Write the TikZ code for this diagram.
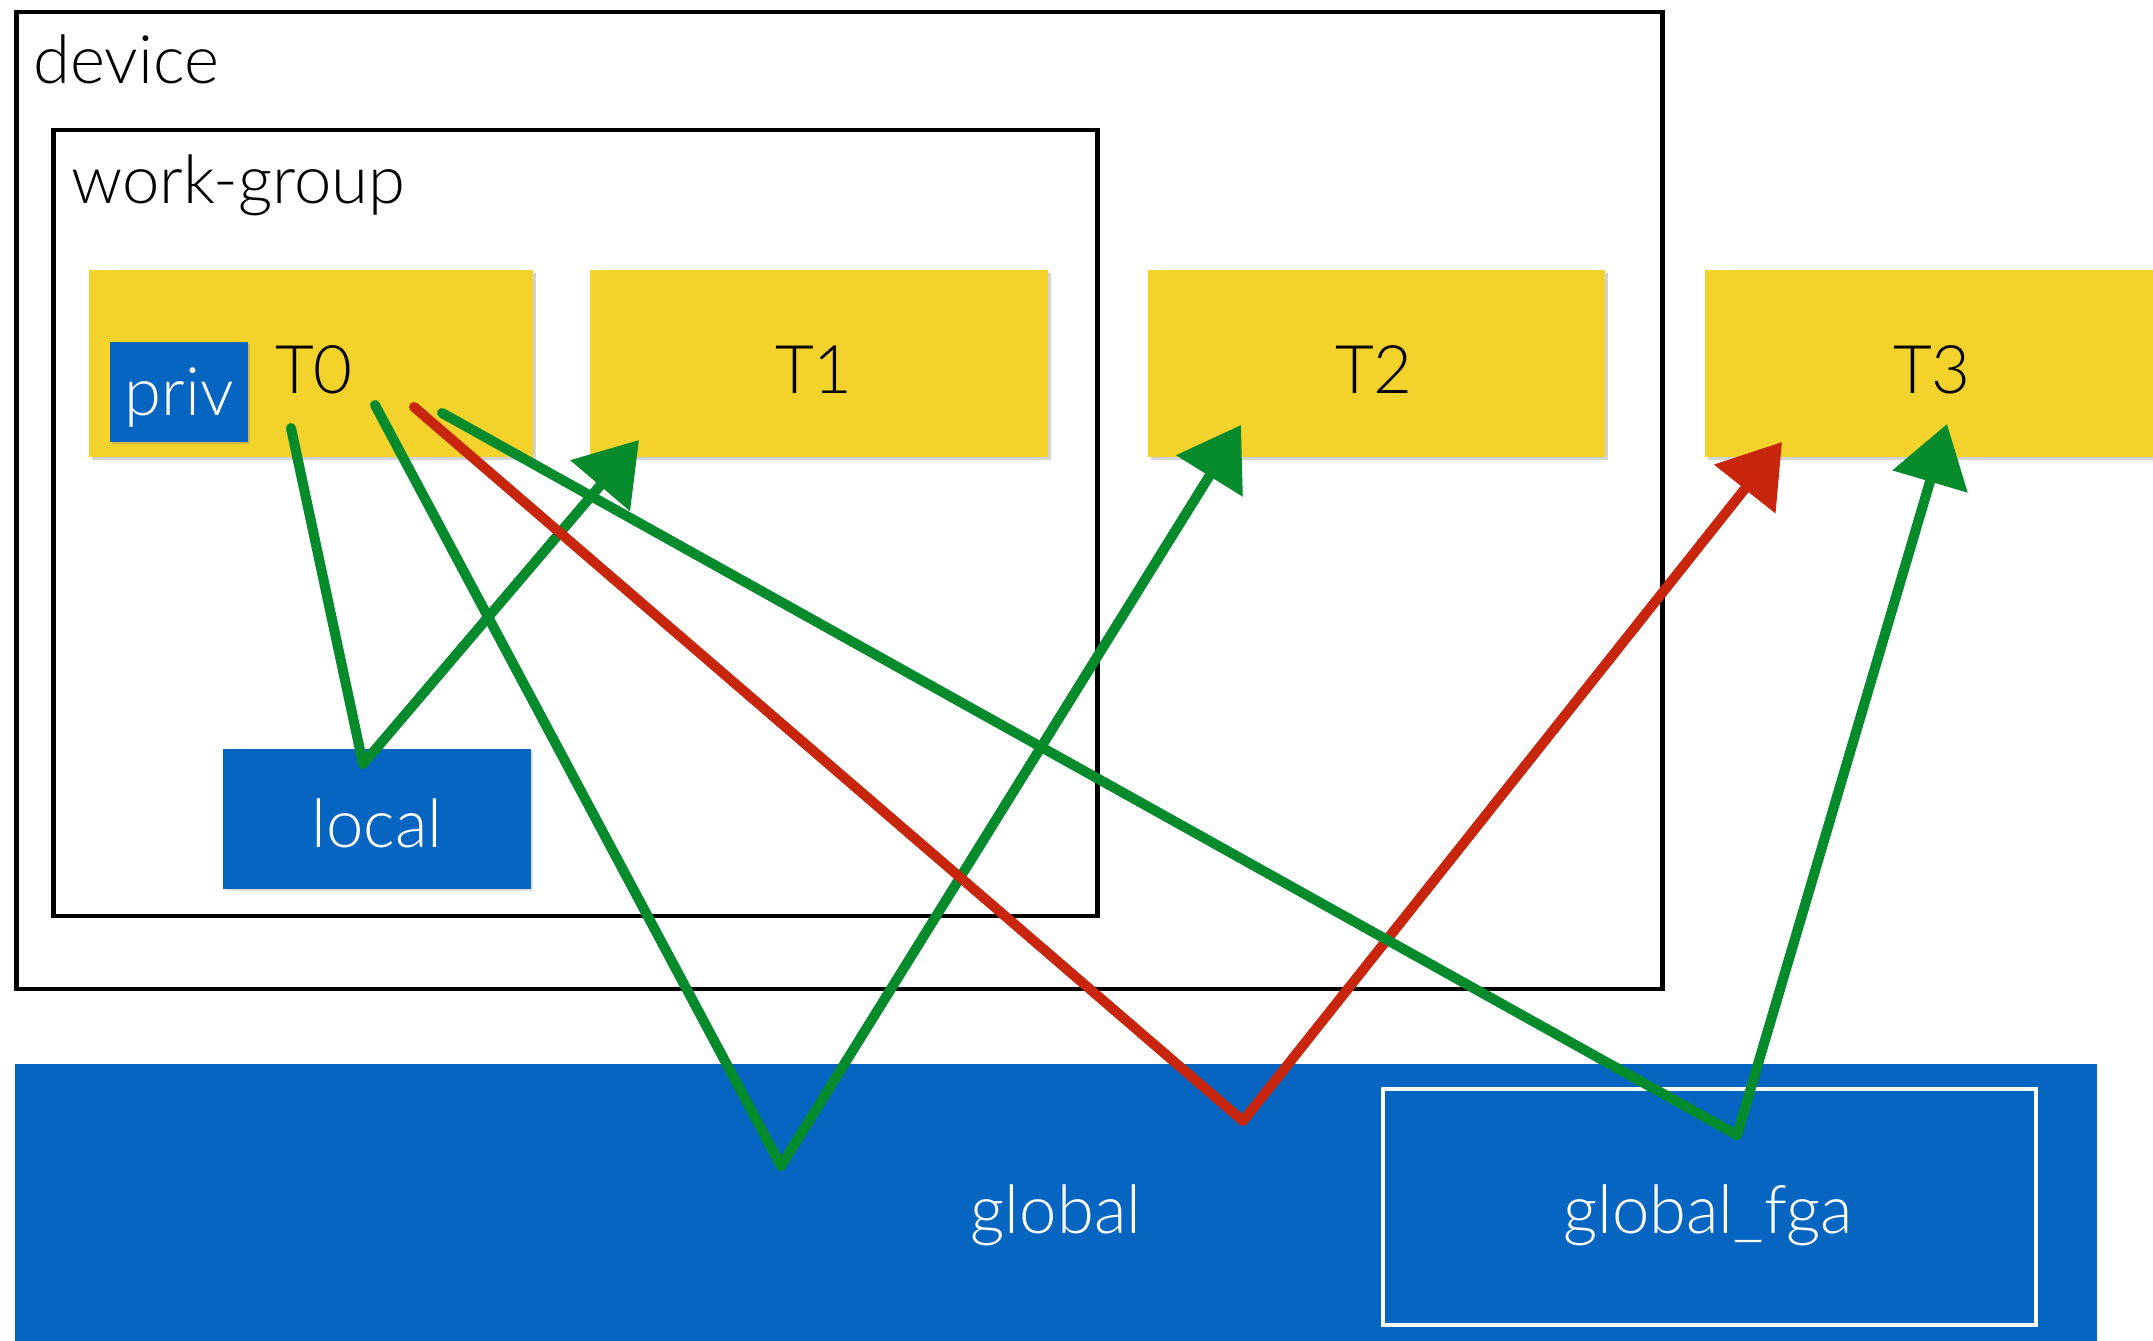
\documentclass[tikz,border=0pt]{standalone}
\usepackage{fontspec}
\setmainfont{Lato}[UprightFont={* Light}]
\usetikzlibrary{arrows.meta,shadows}
\definecolor{tyellow}{HTML}{F3D22B}
\definecolor{mblue}{HTML}{0565C0}
\definecolor{agreen}{HTML}{058A2C}
\definecolor{ared}{HTML}{C8260C}

\begin{document}
\begin{tikzpicture}[x=1pt,y=-1pt,
  box/.style={anchor=north west, inner sep=0pt, outer sep=0pt},
  frame/.style={box, draw=black, line width=4.5pt},
  thread/.style={box, fill=tyellow, drop shadow={shadow xshift=3pt, shadow yshift=-3pt, opacity=0.35}},
  mem/.style={box, fill=mblue},
  lbl/.style={font=\fontsize{67}{74}\selectfont, inner sep=0pt},
  wlbl/.style={lbl, text=white},
  chalk/.style={line width=10pt, line join=round, line cap=round,
                -{Triangle[length=60pt,width=76pt]}}
]
\useasboundingbox (0,0) rectangle (2153,1341);

% containers
\node[frame, minimum width=1646pt, minimum height=977pt] (device) at (16.5,12) {};
\node[lbl, anchor=base west] (devlbl) at (33,83) {device};
\node[frame, minimum width=1044pt, minimum height=786pt] (wg) at (53.5,130) {};
\node[lbl, anchor=base west] (wglbl) at (71,203) {work-group};

% work-items
\node[thread, minimum width=444pt, minimum height=187pt] (T0) at (89,270) {};
\node[lbl, anchor=base west] (T0lbl) at (275,393) {T0};
\node[mem, minimum width=138pt, minimum height=100pt,
      drop shadow={shadow xshift=2pt, shadow yshift=-2pt, opacity=0.3}] (priv) at (110,342) {};
\node[wlbl, anchor=base] (privlbl) at (179,415) {priv};
\node[thread, minimum width=458pt, minimum height=187pt] (T1) at (590,270) {};
\node[lbl, anchor=base] at (814,393) {T1};
\node[thread, minimum width=457pt, minimum height=187pt] (T2) at (1148,270) {};
\node[lbl, anchor=base] at (1374,393) {T2};
\node[thread, minimum width=470pt, minimum height=187pt] (T3) at (1705,270) {};
\node[lbl, anchor=base] at (1932,393) {T3};

% memories
\node[mem, minimum width=308pt, minimum height=140pt,
      drop shadow={shadow xshift=2pt, shadow yshift=-2pt, opacity=0.25}] (local) at (223,749) {};
\node[wlbl, anchor=base] at (377,847) {local};
\node[mem, minimum width=2082pt, minimum height=300pt] (global) at (15,1064) {};
\node[wlbl, anchor=base] at (1056,1233) {global};
\node[box, draw=white, line width=3.5pt, minimum width=653pt, minimum height=236pt] (fga) at (1383,1089) {};
\node[wlbl, anchor=base] at (1708,1233) {global\_fga};

% access paths
\coordinate (g1s) at (291,428);  \coordinate (g1v) at (363,764);  \coordinate (g1e) at (639,440);
\coordinate (g2s) at (375,405);  \coordinate (g2v) at (781,1166); \coordinate (g2e) at (1241,425);
\coordinate (rs)  at (414,407);  \coordinate (rv)  at (1243,1121);\coordinate (re)  at (1782,442);
\coordinate (g3s) at (442,413);  \coordinate (g3v) at (1737,1135);\coordinate (g3e) at (1947,424);

\draw[chalk, agreen] (g1s) -- (g1v) -- (g1e);
\draw[chalk, agreen] (g2s) -- (g2v) -- (g2e);
\draw[chalk, ared]   (rs)  -- (rv)  -- (re);
\draw[chalk, agreen] (g3s) -- (g3v) -- (g3e);
\end{tikzpicture}
\end{document}
